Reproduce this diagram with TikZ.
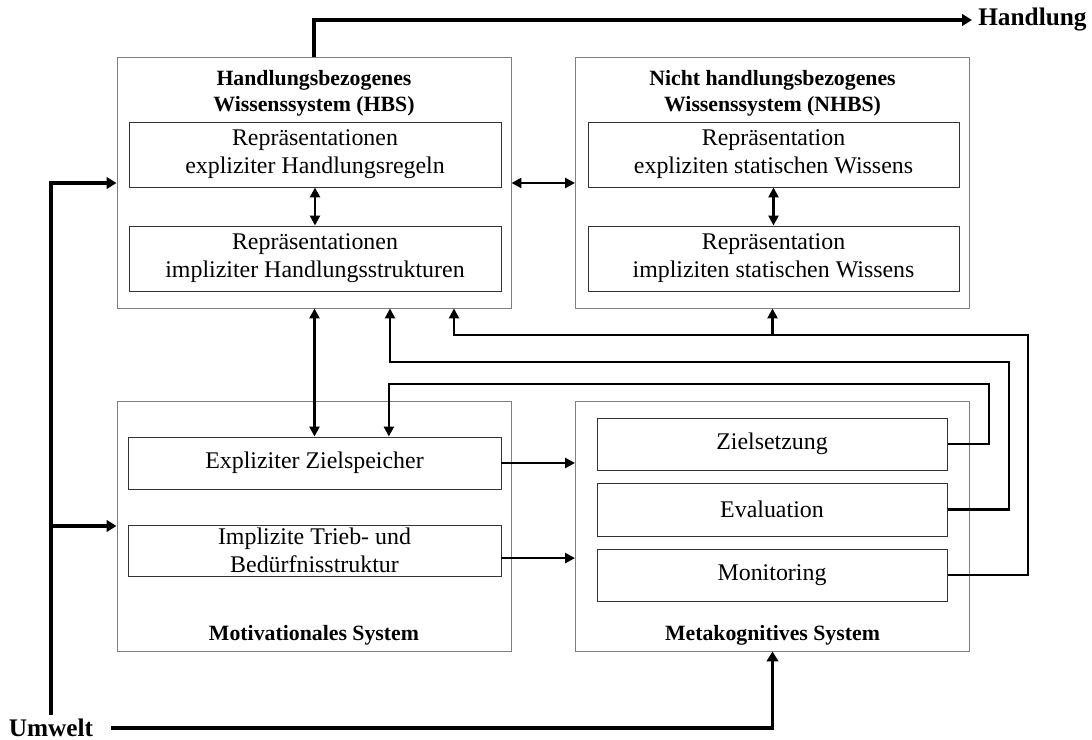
\documentclass[tikz,border=0pt]{standalone}
\usepackage{fontspec}
\setmainfont{Liberation Serif}
\usetikzlibrary{arrows.meta, positioning, calc}
\tikzset{
  sysbox/.style={draw=black!50, line width=0.7pt, minimum width=9.85cm,
                 minimum height=6.25cm, inner sep=0pt},
  repbox/.style={draw=black!80, line width=0.7pt, inner sep=0pt, align=center,
                 font=\fontsize{17}{20}\selectfont},
  systitle/.style={align=center, font=\fontsize{15.5}{18.6}\selectfont\bfseries},
  extlabel/.style={font=\fontsize{18}{20}\selectfont\bfseries, inner sep=0.15cm},
  arrow/.style={-{Triangle[length=2.5mm,width=2.5mm]}, line width=1.9pt},
  dblarrow/.style={{Triangle[length=2.5mm,width=2.5mm]}-{Triangle[length=2.5mm,width=2.5mm]},
                   line width=1.9pt},
  thickarrow/.style={-{Triangle[length=2.5mm,width=2.9mm]}, line width=2.8pt}
}
\begin{document}
\begin{tikzpicture}
  \useasboundingbox (0,0) rectangle (27.3,18.5);

  % systems
  \node[sysbox] (hbs) at (7.85,13.925) {};
  \node[sysbox] (nhbs) at (19.3125,13.925) {};
  \node[sysbox] (mot) at (7.85,5.35) {};
  \node[sysbox] (meta) at (19.3125,5.35) {};

  \node[systitle] (hbst) at (7.85,16.17) {Handlungsbezogenes\\Wissenssystem (HBS)};
  \node[systitle] (nhbst) at (19.3125,16.17) {Nicht handlungsbezogenes\\Wissenssystem (NHBS)};
  \node[systitle] (mott) at (7.85,2.625) {Motivationales System};
  \node[systitle] (metat) at (19.3125,2.625) {Metakognitives System};

  % representations
  \node[repbox, minimum width=9.3cm, minimum height=1.625cm] (hexp) at (7.875,14.6375)
    {Repräsentationen\\expliziter Handlungsregeln};
  \node[repbox, minimum width=9.3cm, minimum height=1.625cm] (himp) at (7.875,12.0375)
    {Repräsentationen\\impliziter Handlungsstrukturen};
  \node[repbox, minimum width=9.275cm, minimum height=1.625cm] (nexp) at (19.3375,14.6375)
    {Repräsentation\\expliziten statischen Wissens};
  \node[repbox, minimum width=9.275cm, minimum height=1.625cm] (nimp) at (19.3375,12.0375)
    {Repräsentation\\impliziten statischen Wissens};

  \node[repbox, minimum width=9.325cm, minimum height=1.3cm] (zsp) at (7.8625,6.925)
    {Expliziter Zielspeicher};
  \node[repbox, minimum width=9.325cm, minimum height=1.275cm] (trieb) at (7.8625,4.7375)
    {Implizite Trieb- und\\Bedürfnisstruktur};

  \node[repbox, minimum width=8.75cm, minimum height=1.3cm] (zset) at (19.3,7.4) {Zielsetzung};
  \node[repbox, minimum width=8.75cm, minimum height=1.325cm] (eval) at (19.3,5.7625) {Evaluation};
  \node[repbox, minimum width=8.75cm, minimum height=1.3cm] (moni) at (19.3,4.125) {Monitoring};

  % environment and action
  \node[extlabel, anchor=west] (handlung) at (24.3,18.0) {Handlung};
  \node[extlabel, inner xsep=0.45cm, inner ysep=0.1cm] (umwelt) at (1.275,0.3) {Umwelt};

  \draw[thickarrow] (hbs.north) |- (handlung.west);
  \draw[thickarrow] (umwelt.north) |- (hbs.west);
  \draw[thickarrow] (umwelt.north |- mot.west) -- (mot.west);
  \draw[thickarrow] (umwelt.east) -| (meta.south);

  % links between systems
  \draw[dblarrow] (hbs.east) -- (nhbs.west);
  \draw[dblarrow] (hexp.south) -- (himp.north);
  \draw[dblarrow] (nexp.south) -- (nimp.north);
  \draw[dblarrow] (zsp.north) -- (zsp.north |- hbs.south);
  \draw[arrow] (zsp.east) -- (zsp.east -| meta.west);
  \draw[arrow] ([yshift=-0.19cm]trieb.east) -- ([yshift=-0.19cm]trieb.east -| meta.west);

  % feedback from the metacognitive system
  \coordinate (zsetup) at (24.725,8.9);
  \coordinate (evalup) at (25.225,9.45);
  \coordinate (moniup) at (25.7,10.125);
  \draw[arrow] (zset.east) -| (zsetup) -| ([xshift=1.86cm]zsp.north);
  \draw[arrow] (eval.east) -| (evalup) -| ([xshift=1.9cm]hbs.south);
  \draw[arrow] (moni.east) -| (moniup) -| ([xshift=3.5cm]hbs.south);
  \draw[arrow] (nhbs.south |- moniup) -- (nhbs.south);
\end{tikzpicture}
\end{document}
